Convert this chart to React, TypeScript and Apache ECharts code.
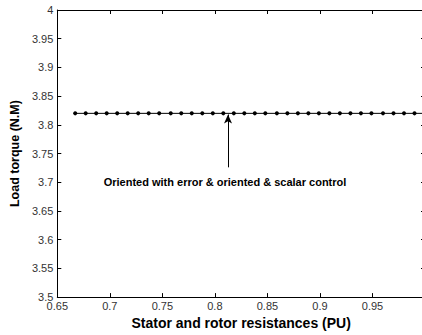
import React, { useEffect, useRef } from "react";
import * as echarts from "echarts";

const xValues = [0.667, 0.677, 0.687, 0.697, 0.707, 0.717, 0.727, 0.737, 0.747, 0.758, 0.768, 0.778, 0.788, 0.798, 0.808, 0.818, 0.828, 0.838, 0.848, 0.859, 0.869, 0.879, 0.889, 0.899, 0.909, 0.919, 0.929, 0.939, 0.949, 0.96, 0.97, 0.98, 0.99, 1.0];
const torqueValues = [3.82, 3.82, 3.82, 3.82, 3.82, 3.82, 3.82, 3.82, 3.82, 3.82, 3.82, 3.82, 3.82, 3.82, 3.82, 3.82, 3.82, 3.82, 3.82, 3.82, 3.82, 3.82, 3.82, 3.82, 3.82, 3.82, 3.82, 3.82, 3.82, 3.82, 3.82, 3.82, 3.82, 3.82];
const arrowFrom = [0.8125, 3.726];
const arrowTo = [0.8125, 3.818];
const annotation = "Oriented with error & oriented & scalar control";
const xTitle = "Stator and rotor resistances (PU)";
const yTitle = "Load torque (N.M)";

const FONT = "'Liberation Sans', Arial, sans-serif";

export default function App() {
  const ref = useRef<HTMLDivElement>(null);
  useEffect(() => {
    if (!ref.current) return;
    const chart = echarts.init(ref.current, null, { renderer: "svg", width: 432, height: 335 });
    const tickLabel = { color: "#333", fontSize: 11, fontFamily: FONT };
    const fmt = (v: number) => String(parseFloat(v.toFixed(2)));
    chart.setOption({
      animation: false,
      backgroundColor: "#fff",
      grid: { left: 56, right: 7, top: 10, bottom: 35 },
      xAxis: [
        {
          type: "value", min: 0.65, max: 1.0, interval: 0.05,
          axisLine: { lineStyle: { color: "#000", width: 1 } },
          axisTick: { inside: true, length: 4, lineStyle: { color: "#000" } },
          axisLabel: { ...tickLabel, margin: 3, formatter: (v: number) => (v >= 0.999 ? "" : fmt(v)) },
          splitLine: { show: false },
          name: xTitle, nameLocation: "middle", nameGap: 15,
          nameTextStyle: { color: "#000", fontSize: 14, fontWeight: "bold", fontFamily: FONT, verticalAlign: "top" },
        },
        {
          type: "value", position: "top", min: 0.65, max: 1.0, interval: 0.05,
          axisLine: { show: true, lineStyle: { color: "#000", width: 1 } },
          axisTick: { show: true, inside: true, length: 4, lineStyle: { color: "#000" } },
          axisLabel: { show: false }, splitLine: { show: false },
        },
      ],
      yAxis: [
        {
          type: "value", min: 3.5, max: 4, interval: 0.05,
          axisLine: { show: true, lineStyle: { color: "#000", width: 1 } },
          axisTick: { show: true, inside: true, length: 4, lineStyle: { color: "#000" } },
          axisLabel: { ...tickLabel, margin: 4, formatter: fmt },
          splitLine: { show: false },
          name: yTitle, nameLocation: "middle", nameGap: 33,
          nameTextStyle: { color: "#000", fontSize: 12.5, fontWeight: "bold", fontFamily: FONT },
        },
        {
          type: "value", position: "right", min: 3.5, max: 4, interval: 0.05,
          axisLine: { show: true, lineStyle: { color: "#000", width: 1 } },
          axisTick: { show: true, inside: true, length: 4, lineStyle: { color: "#000" } },
          axisLabel: { show: false }, splitLine: { show: false },
        },
      ],
      series: [
        {
          type: "line",
          data: xValues.map((x, i) => [x, torqueValues[i]]),
          symbol: "circle", symbolSize: 4,
          itemStyle: { color: "#000" },
          lineStyle: { color: "#000", width: 1 },
          markLine: {
            silent: true,
            symbol: ["none", "arrow"],
            symbolSize: [6, 9],
            label: { show: false },
            lineStyle: { color: "#000", width: 1, type: "solid" },
            data: [[{ coord: arrowFrom }, { coord: arrowTo }]],
          },
        },
      ],
      graphic: [
        {
          type: "text", x: 225, y: 182,
          style: {
            text: annotation, fill: "#000", fontSize: 11, fontWeight: "bold",
            fontFamily: FONT, align: "center", verticalAlign: "middle",
          },
        },
      ],
    });
    return () => chart.dispose();
  }, []);
  return (
    <div style={{ position: "absolute", left: 0, top: 0, width: 422, height: 335, overflow: "hidden" }}>
      <div ref={ref} style={{ position: "absolute", left: 0, top: 0, width: 432, height: 335 }} />
    </div>
  );
}
